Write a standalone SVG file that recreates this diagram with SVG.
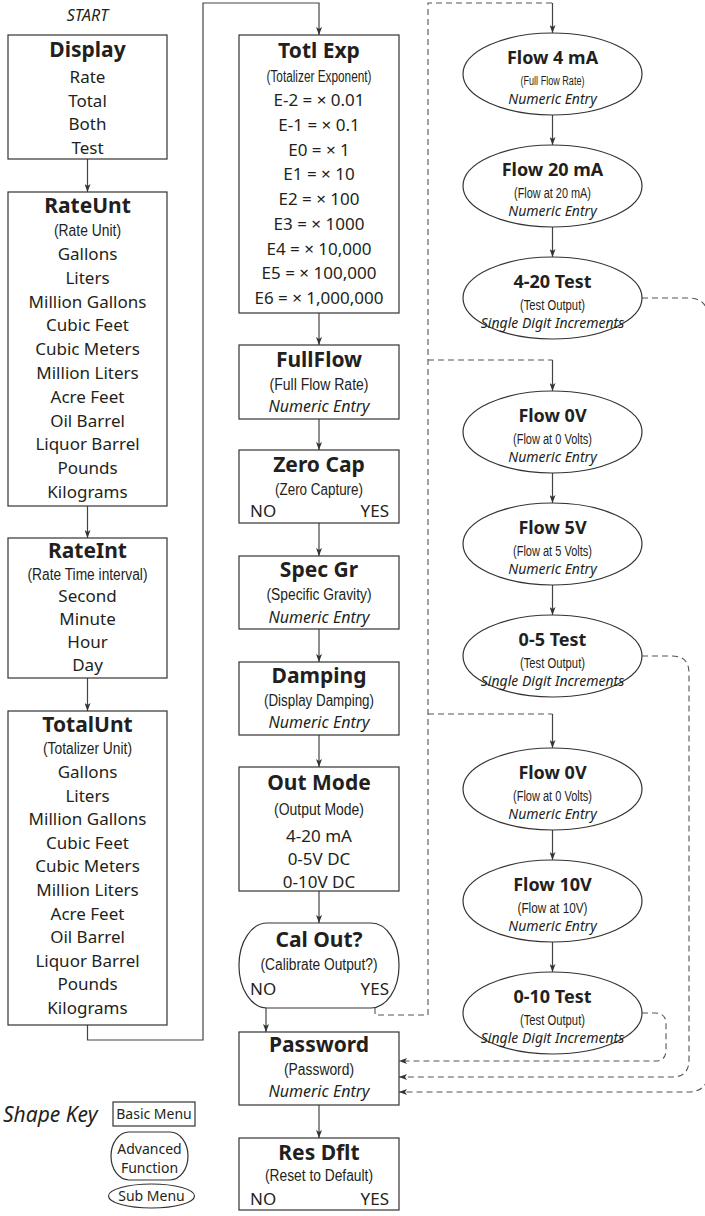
<svg xmlns="http://www.w3.org/2000/svg" width="705" height="1216" viewBox="0 0 705 1216">
<defs>
<marker id="arr" viewBox="0 0 8 6" refX="8" refY="3" markerWidth="8" markerHeight="6" markerUnits="userSpaceOnUse" orient="auto">
<path d="M0,0 L8,3 L0,6 L2,3 Z" fill="#333"/>
</marker>
<style>
.box{fill:#fff;stroke:#333;stroke-width:1.2}
.t{font-family:"Noto Sans","Liberation Sans",sans-serif;font-size:17px;fill:#231f20;text-anchor:middle}
.b{font-weight:700;font-size:21px}
.eb{font-weight:700;font-size:18px}
.i{font-style:italic;font-size:16px}
.ei{font-style:italic;font-size:14px}
.s{font-family:"Liberation Sans",sans-serif;font-size:16px;fill:#231f20;text-anchor:middle}
.es{font-family:"Liberation Sans",sans-serif;font-size:14px;fill:#231f20;text-anchor:middle}
.es2{font-family:"Liberation Sans",sans-serif;font-size:12.5px;fill:#231f20;text-anchor:middle}
.k{font-family:"Noto Sans","Liberation Sans",sans-serif;font-size:14px;fill:#231f20;text-anchor:middle}
.key{font-family:"Noto Sans","Liberation Sans",sans-serif;font-size:21px;font-style:italic;fill:#231f20}
.start{font-family:"Noto Sans","Liberation Sans",sans-serif;font-size:16px;font-style:italic;fill:#231f20;text-anchor:middle}
.l{text-anchor:start}
.r{text-anchor:end}
.con{fill:none;stroke:#444;stroke-width:1.2}
.arw{marker-end:url(#arr)}
.dash{fill:none;stroke:#555;stroke-width:1.1;stroke-dasharray:6 4}
</style>
</defs>
<rect width="705" height="1216" fill="#fff"/>

<text class="start" x="87.5" y="21">START</text>

<g id="connectors">
<path class="con arw" d="M87.5,159 V192"/>
<path class="con arw" d="M87.5,506 V538"/>
<path class="con arw" d="M87.5,678 V711"/>
<path class="con arw" d="M87.5,1025 V1040 H203 V3 H319 V35"/>
<path class="con arw" d="M319,313 V345"/>
<path class="con arw" d="M319,419 V450"/>
<path class="con arw" d="M319,523 V556"/>
<path class="con arw" d="M319,629 V662"/>
<path class="con arw" d="M319,735 V767"/>
<path class="con arw" d="M319,891 V923"/>
<path class="con arw" d="M266,1008 V1032"/>
<path class="con arw" d="M319,1105 V1138"/>
<path class="dash" d="M375,1008 V1015 H428 V3 H552.5"/>
<path class="dash" d="M428,360 H552.5"/>
<path class="dash" d="M428,714 H552.5"/>
<path class="con arw" d="M552.5,3 V33"/>
<path class="con arw" d="M552.5,115 V145"/>
<path class="con arw" d="M552.5,227 V257"/>
<path class="con arw" d="M552.5,360 V391"/>
<path class="con arw" d="M552.5,473 V503"/>
<path class="con arw" d="M552.5,585 V615"/>
<path class="con arw" d="M552.5,714 V748"/>
<path class="con arw" d="M552.5,830 V860"/>
<path class="con arw" d="M552.5,942 V972"/>
<path class="dash arw" d="M642,298 H688 Q708,298 708,318 V1072 Q708,1092 688,1092 H399"/>
<path class="dash arw" d="M642,656 H672 Q689,656 689,673 V1060 Q689,1077 672,1077 H399"/>
<path class="dash arw" d="M642,1013 H655 Q666,1013 666,1024 V1050 Q666,1061 655,1061 H399"/>
</g>

<g id="display">
<rect class="box" x="8" y="35" width="159" height="124"/>
<text class="t b" x="87.5" y="57">Display</text>
<text class="t" x="87.5" y="83">Rate</text>
<text class="t" x="87.5" y="106.5">Total</text>
<text class="t" x="87.5" y="130">Both</text>
<text class="t" x="87.5" y="153.5">Test</text>
</g>

<g id="rateunt">
<rect class="box" x="8" y="192" width="159" height="314"/>
<text class="t b" x="87.5" y="213">RateUnt</text>
<text class="s" x="87.5" y="236" textLength="67" lengthAdjust="spacingAndGlyphs">(Rate Unit)</text>
<text class="t" x="87.5" y="260">Gallons</text>
<text class="t" x="87.5" y="283.8">Liters</text>
<text class="t" x="87.5" y="307.6">Million Gallons</text>
<text class="t" x="87.5" y="331.4">Cubic Feet</text>
<text class="t" x="87.5" y="355.2">Cubic Meters</text>
<text class="t" x="87.5" y="379">Million Liters</text>
<text class="t" x="87.5" y="402.8">Acre Feet</text>
<text class="t" x="87.5" y="426.6">Oil Barrel</text>
<text class="t" x="87.5" y="450.4">Liquor Barrel</text>
<text class="t" x="87.5" y="474.2">Pounds</text>
<text class="t" x="87.5" y="498">Kilograms</text>
</g>

<g id="rateint">
<rect class="box" x="8" y="538" width="159" height="140"/>
<text class="t b" x="87.5" y="558">RateInt</text>
<text class="s" x="87.5" y="580" textLength="120" lengthAdjust="spacingAndGlyphs">(Rate Time interval)</text>
<text class="t" x="87.5" y="602">Second</text>
<text class="t" x="87.5" y="625">Minute</text>
<text class="t" x="87.5" y="648">Hour</text>
<text class="t" x="87.5" y="671">Day</text>
</g>

<g id="totalunt">
<rect class="box" x="8" y="711" width="159" height="314"/>
<text class="t b" x="87.5" y="732">TotalUnt</text>
<text class="s" x="87.5" y="754" textLength="89" lengthAdjust="spacingAndGlyphs">(Totalizer Unit)</text>
<text class="t" x="87.5" y="778">Gallons</text>
<text class="t" x="87.5" y="801.6">Liters</text>
<text class="t" x="87.5" y="825.2">Million Gallons</text>
<text class="t" x="87.5" y="848.8">Cubic Feet</text>
<text class="t" x="87.5" y="872.4">Cubic Meters</text>
<text class="t" x="87.5" y="896">Million Liters</text>
<text class="t" x="87.5" y="919.6">Acre Feet</text>
<text class="t" x="87.5" y="943.2">Oil Barrel</text>
<text class="t" x="87.5" y="966.8">Liquor Barrel</text>
<text class="t" x="87.5" y="990.4">Pounds</text>
<text class="t" x="87.5" y="1014">Kilograms</text>
</g>

<g id="totlexp">
<rect class="box" x="239" y="35" width="160" height="278"/>
<text class="t b" x="319" y="58">Totl Exp</text>
<text class="s" x="319" y="82" textLength="105" lengthAdjust="spacingAndGlyphs">(Totalizer Exponent)</text>
<text class="t" x="319" y="106">E-2 = × 0.01</text>
<text class="t" x="319" y="130.8">E-1 = × 0.1</text>
<text class="t" x="319" y="155.5">E0 = × 1</text>
<text class="t" x="319" y="180.3">E1 = × 10</text>
<text class="t" x="319" y="205">E2 = × 100</text>
<text class="t" x="319" y="229.8">E3 = × 1000</text>
<text class="t" x="319" y="254.5">E4 = × 10,000</text>
<text class="t" x="319" y="279.3">E5 = × 100,000</text>
<text class="t" x="319" y="304">E6 = × 1,000,000</text>
</g>

<g id="fullflow">
<rect class="box" x="239" y="345" width="160" height="74"/>
<text class="t b" x="319" y="367">FullFlow</text>
<text class="s" x="319" y="390" textLength="99" lengthAdjust="spacingAndGlyphs">(Full Flow Rate)</text>
<text class="t i" x="319" y="412">Numeric Entry</text>
</g>

<g id="zerocap">
<rect class="box" x="239" y="450" width="160" height="73"/>
<text class="t b" x="319" y="472">Zero Cap</text>
<text class="s" x="319" y="495" textLength="88" lengthAdjust="spacingAndGlyphs">(Zero Capture)</text>
<text class="t l" x="250" y="517">NO</text>
<text class="t r" x="389" y="517">YES</text>
</g>

<g id="specgr">
<rect class="box" x="239" y="556" width="160" height="73"/>
<text class="t b" x="319" y="577">Spec Gr</text>
<text class="s" x="319" y="600" textLength="105" lengthAdjust="spacingAndGlyphs">(Specific Gravity)</text>
<text class="t i" x="319" y="623">Numeric Entry</text>
</g>

<g id="damping">
<rect class="box" x="239" y="662" width="160" height="73"/>
<text class="t b" x="319" y="683">Damping</text>
<text class="s" x="319" y="706" textLength="110" lengthAdjust="spacingAndGlyphs">(Display Damping)</text>
<text class="t i" x="319" y="728">Numeric Entry</text>
</g>

<g id="outmode">
<rect class="box" x="239" y="767" width="160" height="124"/>
<text class="t b" x="319" y="790">Out Mode</text>
<text class="s" x="319" y="815" textLength="90" lengthAdjust="spacingAndGlyphs">(Output Mode)</text>
<text class="t" x="319" y="842">4-20 mA</text>
<text class="t" x="319" y="865">0-5V DC</text>
<text class="t" x="319" y="888">0-10V DC</text>
</g>

<g id="calout">
<rect class="box" x="239" y="923" width="160" height="85" rx="28" ry="42"/>
<text class="t b" x="319" y="947">Cal Out?</text>
<text class="s" x="319" y="970" textLength="117" lengthAdjust="spacingAndGlyphs">(Calibrate Output?)</text>
<text class="t l" x="250" y="995">NO</text>
<text class="t r" x="389" y="995">YES</text>
</g>

<g id="password">
<rect class="box" x="239" y="1032" width="160" height="73"/>
<text class="t b" x="319" y="1052">Password</text>
<text class="s" x="319" y="1075" textLength="70" lengthAdjust="spacingAndGlyphs">(Password)</text>
<text class="t i" x="319" y="1097">Numeric Entry</text>
</g>

<g id="resdflt">
<rect class="box" x="239" y="1138" width="160" height="72"/>
<text class="t b" x="319" y="1160">Res Dflt</text>
<text class="s" x="319" y="1181" textLength="108" lengthAdjust="spacingAndGlyphs">(Reset to Default)</text>
<text class="t l" x="250" y="1205">NO</text>
<text class="t r" x="389" y="1205">YES</text>
</g>

<g id="flow4ma">
<ellipse class="box" cx="552.5" cy="74" rx="89.5" ry="41"/>
<text class="t eb" x="552.5" y="64">Flow 4 mA</text>
<text class="es2" x="552.5" y="85" textLength="64" lengthAdjust="spacingAndGlyphs">(Full Flow Rate)</text>
<text class="t ei" x="552.5" y="104">Numeric Entry</text>
</g>

<g id="flow20ma">
<ellipse class="box" cx="552.5" cy="186" rx="89.5" ry="41"/>
<text class="t eb" x="552.5" y="176">Flow 20 mA</text>
<text class="es" x="552.5" y="198" textLength="77" lengthAdjust="spacingAndGlyphs">(Flow at 20 mA)</text>
<text class="t ei" x="552.5" y="216">Numeric Entry</text>
</g>

<g id="test420">
<ellipse class="box" cx="552.5" cy="298" rx="89.5" ry="41"/>
<text class="t eb" x="552.5" y="288">4-20 Test</text>
<text class="es" x="552.5" y="310" textLength="65" lengthAdjust="spacingAndGlyphs">(Test Output)</text>
<text class="t ei" x="552.5" y="328">Single Digit Increments</text>
</g>

<g id="flow0v-a">
<ellipse class="box" cx="552.5" cy="432" rx="89.5" ry="41"/>
<text class="t eb" x="552.5" y="422">Flow 0V</text>
<text class="es" x="552.5" y="444" textLength="79" lengthAdjust="spacingAndGlyphs">(Flow at 0 Volts)</text>
<text class="t ei" x="552.5" y="462">Numeric Entry</text>
</g>

<g id="flow5v">
<ellipse class="box" cx="552.5" cy="544" rx="89.5" ry="41"/>
<text class="t eb" x="552.5" y="534">Flow 5V</text>
<text class="es" x="552.5" y="556" textLength="79" lengthAdjust="spacingAndGlyphs">(Flow at 5 Volts)</text>
<text class="t ei" x="552.5" y="574">Numeric Entry</text>
</g>

<g id="test05">
<ellipse class="box" cx="552.5" cy="656" rx="89.5" ry="41"/>
<text class="t eb" x="552.5" y="646">0-5 Test</text>
<text class="es" x="552.5" y="668" textLength="65" lengthAdjust="spacingAndGlyphs">(Test Output)</text>
<text class="t ei" x="552.5" y="686">Single Digit Increments</text>
</g>

<g id="flow0v-b">
<ellipse class="box" cx="552.5" cy="789" rx="89.5" ry="41"/>
<text class="t eb" x="552.5" y="779">Flow 0V</text>
<text class="es" x="552.5" y="801" textLength="79" lengthAdjust="spacingAndGlyphs">(Flow at 0 Volts)</text>
<text class="t ei" x="552.5" y="819">Numeric Entry</text>
</g>

<g id="flow10v">
<ellipse class="box" cx="552.5" cy="901" rx="89.5" ry="41"/>
<text class="t eb" x="552.5" y="891">Flow 10V</text>
<text class="es" x="552.5" y="913" textLength="70" lengthAdjust="spacingAndGlyphs">(Flow at 10V)</text>
<text class="t ei" x="552.5" y="931">Numeric Entry</text>
</g>

<g id="test010">
<ellipse class="box" cx="552.5" cy="1013" rx="89.5" ry="41"/>
<text class="t eb" x="552.5" y="1003">0-10 Test</text>
<text class="es" x="552.5" y="1025" textLength="65" lengthAdjust="spacingAndGlyphs">(Test Output)</text>
<text class="t ei" x="552.5" y="1043">Single Digit Increments</text>
</g>

<g id="shapekey">
<text class="key" x="3" y="1122">Shape Key</text>
<rect class="box" x="113" y="1102" width="82" height="24"/>
<text class="k" x="154" y="1119">Basic Menu</text>
<rect class="box" x="111" y="1132" width="77" height="48" rx="18" ry="24"/>
<text class="k" x="149.5" y="1154">Advanced</text>
<text class="k" x="149.5" y="1173">Function</text>
<ellipse class="box" cx="151.5" cy="1196" rx="43" ry="12"/>
<text class="k" x="151.5" y="1201">Sub Menu</text>
</g>
</svg>
